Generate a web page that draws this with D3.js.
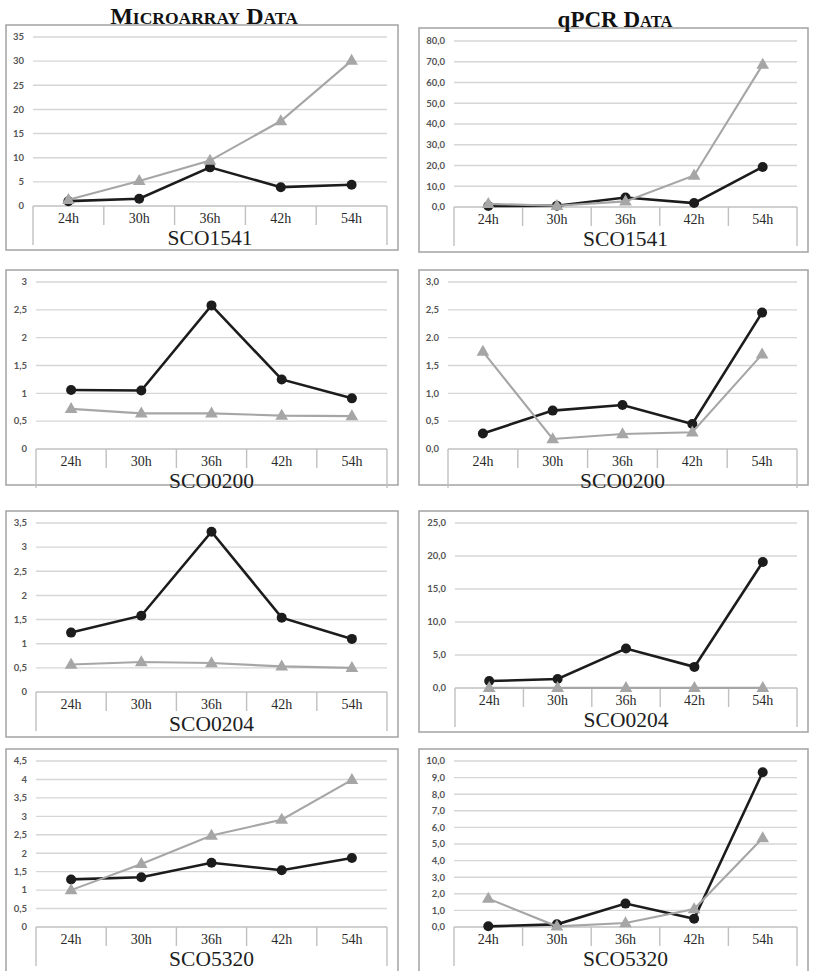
<!DOCTYPE html>
<meta charset="utf-8">
<style>
    body { margin: 0; background: #fff; }
    .box { fill: none; stroke: #a3a3a3; stroke-width: 1.5; }
    .grid { stroke: #d6d6d6; stroke-width: 1.4; }
    .catline { stroke: #c0c0c0; stroke-width: 1.4; }
    .ytick { font-family: Lato, "Open Sans", sans-serif; font-size: 9.5px; font-weight: bold; fill: #555; }
    .cat { font-family: "Liberation Serif", serif; font-size: 14px; fill: #2a2a2a; }
    .gene { font-family: "Liberation Serif", serif; font-size: 21.5px; fill: #1e1e1e; }
    .title { font-family: "Liberation Serif", serif; font-weight: bold; fill: #111; }
</style>
<svg width="814" height="971"></svg>
<script src="https://d3js.org/d3.v7.min.js"></script>
<script>

    // time points and genes
    var hours = ["24h", "30h", "36h", "42h", "54h"];
    var genes = ["SCO1541", "SCO0200", "SCO0204", "SCO5320"];

    // microarray data (black = circles, gray = triangles)
    var microBlack = [
        [1.0, 1.5, 8.0, 3.9, 4.4],
        [1.06, 1.05, 2.58, 1.25, 0.91],
        [1.23, 1.58, 3.32, 1.54, 1.10],
        [1.29, 1.35, 1.74, 1.54, 1.87]
    ];
    var microGray = [
        [1.3, 5.2, 9.4, 17.6, 30.1],
        [0.72, 0.64, 0.64, 0.60, 0.59],
        [0.57, 0.62, 0.60, 0.53, 0.50],
        [1.0, 1.71, 2.48, 2.91, 3.99]
    ];

    // qPCR data
    var qpcrBlack = [
        [0.5, 0.6, 4.6, 1.9, 19.3],
        [0.28, 0.69, 0.79, 0.45, 2.45],
        [1.05, 1.37, 5.98, 3.2, 19.1],
        [0.04, 0.16, 1.41, 0.50, 9.32]
    ];
    var qpcrGray = [
        [1.5, 0.6, 2.7, 15.2, 68.6],
        [1.75, 0.18, 0.27, 0.30, 1.70],
        [0.02, 0.02, 0.02, 0.02, 0.02],
        [1.71, 0.04, 0.24, 1.08, 5.36]
    ];

    // y tick labels as printed
    var microTicks = [
        ["0", "5", "10", "15", "20", "25", "30", "35"],
        ["0", "0,5", "1", "1,5", "2", "2,5", "3"],
        ["0", "0,5", "1", "1,5", "2", "2,5", "3", "3,5"],
        ["0", "0,5", "1", "1,5", "2", "2,5", "3", "3,5", "4", "4,5"]
    ];
    var qpcrTicks = [
        ["0,0", "10,0", "20,0", "30,0", "40,0", "50,0", "60,0", "70,0", "80,0"],
        ["0,0", "0,5", "1,0", "1,5", "2.0", "2,5", "3,0"],
        ["0,0", "5,0", "10,0", "15,0", "20,0", "25,0"],
        ["0,0", "1,0", "2,0", "3,0", "4,0", "5,0", "6,0", "7,0", "8,0", "9,0", "10,0"]
    ];

    // panel geometry: box and plot area for each row
    var leftCol = { boxL: 6, boxR: 398, plotR: 387, plotL: [33, 36, 36, 36] };
    var rightCol = { boxL: 419, boxR: 808, plotR: 797, plotL: [454, 448, 455, 454] };
    var leftRows = [
        { boxT: 25, boxB: 250, top: 37, zero: 206 },
        { boxT: 270, boxB: 485, top: 282, zero: 449 },
        { boxT: 511, boxB: 737, top: 523, zero: 692 },
        { boxT: 749, boxB: 976, top: 761, zero: 927 }
    ];
    var rightRows = [
        { boxT: 28, boxB: 252, top: 41, zero: 207 },
        { boxT: 270, boxB: 485, top: 282, zero: 449 },
        { boxT: 511, boxB: 732, top: 523, zero: 688 },
        { boxT: 749, boxB: 976, top: 761, zero: 927 }
    ];

    var svg = d3.select("svg");

    function num(s) { return +s.replace(",", "."); }

    function drawPanel(col, row, i, black, gray, ticks) {
        var g = svg.append("g");
        var plotL = col.plotL[i];

        g.append("rect")
            .attr("class", "box")
            .attr("x", col.boxL).attr("y", row.boxT)
            .attr("width", col.boxR - col.boxL)
            .attr("height", row.boxB - row.boxT);

        var tickVals = ticks.map(num);
        var y = d3.scaleLinear()
            .domain([0, d3.max(tickVals)])
            .range([row.zero, row.top]);

        var x = d3.scaleBand()
            .domain(hours)
            .range([plotL, col.plotR]);
        var cx = function (j) { return x(hours[j]) + x.bandwidth() / 2; };

        // gridlines + y labels
        g.selectAll(".grid").data(tickVals).enter().append("line")
            .attr("class", function (d) { return d === 0 ? "catline" : "grid"; })
            .attr("x1", plotL).attr("x2", col.plotR)
            .attr("y1", function (d) { return y(d); })
            .attr("y2", function (d) { return y(d); });

        g.selectAll(".ytick").data(ticks).enter().append("text")
            .attr("class", "ytick")
            .attr("text-anchor", "end")
            .attr("x", plotL - 9)
            .attr("y", function (d) { return y(num(d)); })
            .attr("dy", "0.35em")
            .text(function (d) { return d; });

        // category dividers (two-level axis: hours, then gene)
        var edges = hours.map(function (h) { return x(h); }).concat([col.plotR]);
        g.selectAll(".div").data(edges).enter().append("line")
            .attr("class", "catline")
            .attr("x1", function (d) { return d; })
            .attr("x2", function (d) { return d; })
            .attr("y1", row.zero)
            .attr("y2", function (d, j) { return (j === 0 || j === edges.length - 1) ? row.zero + 39 : row.zero + 19; });

        g.selectAll(".cat").data(hours).enter().append("text")
            .attr("class", "cat")
            .attr("text-anchor", "middle")
            .attr("x", function (d, j) { return cx(j); })
            .attr("y", row.zero + 17)
            .text(function (d) { return d; });

        g.append("text")
            .attr("class", "gene")
            .attr("text-anchor", "middle")
            .attr("x", (plotL + col.plotR) / 2)
            .attr("y", row.zero + 39)
            .text(genes[i]);

        var line = d3.line()
            .x(function (d, j) { return cx(j); })
            .y(function (d) { return y(d); });

        // black series (circles)
        g.append("path").datum(black)
            .attr("fill", "none").attr("stroke", "#1c1c1c").attr("stroke-width", 2.6)
            .attr("d", line);
        g.selectAll(".dot").data(black).enter().append("circle")
            .attr("cx", function (d, j) { return cx(j); })
            .attr("cy", function (d) { return y(d); })
            .attr("r", 5)
            .attr("fill", "#1c1c1c");

        // gray series (triangles)
        g.append("path").datum(gray)
            .attr("fill", "none").attr("stroke", "#a6a6a6").attr("stroke-width", 2.1)
            .attr("d", line);
        var tri = d3.symbol().type(d3.symbolTriangle).size(70);
        g.selectAll(".tri").data(gray).enter().append("path")
            .attr("d", tri)
            .attr("transform", function (d, j) {
                return "translate(" + cx(j) + "," + (y(d) + 0.5) + ")";
            })
            .attr("fill", "#a6a6a6");
    }

    for (var i = 0; i < genes.length; i++) {
        drawPanel(leftCol, leftRows[i], i, microBlack[i], microGray[i], microTicks[i]);
        drawPanel(rightCol, rightRows[i], i, qpcrBlack[i], qpcrGray[i], qpcrTicks[i]);
    }

    // column titles (manual small caps)
    function title(x, yb, parts) {
        var t = svg.append("text")
            .attr("class", "title")
            .attr("text-anchor", "middle")
            .attr("x", x).attr("y", yb);
        parts.forEach(function (p) {
            t.append("tspan").attr("font-size", p[1]).text(p[0]);
        });
    }
    title(204, 24, [["M", 24], ["ICROARRAY", 17.5], [" D", 24], ["ATA", 17.5]]);
    title(615, 27, [["qPCR D", 23], ["ATA", 16.5]]);

</script>
